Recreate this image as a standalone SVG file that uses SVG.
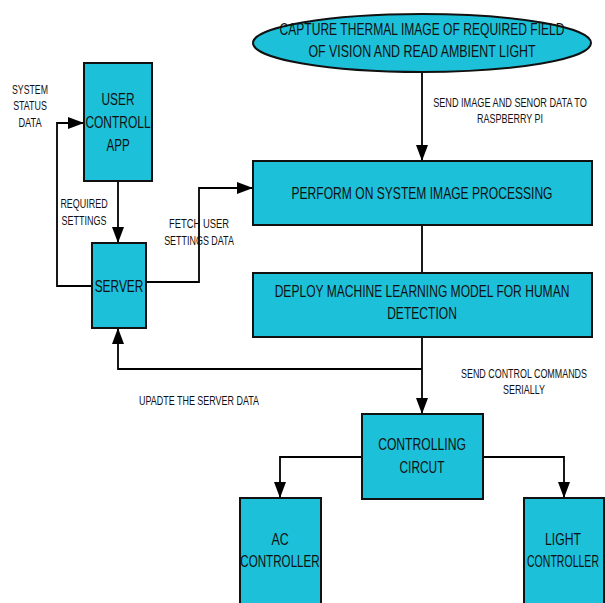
<svg xmlns="http://www.w3.org/2000/svg" width="605" height="603" viewBox="0 0 605 603">
<defs>
<style>
.n{fill:#1CC0D9;stroke:#111;stroke-width:2}
.t{font-family:"Liberation Sans",Arial,sans-serif;font-size:17px;fill:#111;text-anchor:middle}
.l{font-family:"Liberation Sans",Arial,sans-serif;font-size:12px;fill:#111;text-anchor:middle}
.c{fill:none;stroke:#000;stroke-width:1.8}
</style>
<marker id="ah" markerUnits="userSpaceOnUse" markerWidth="16" markerHeight="12" viewBox="0 0 16 12" refX="16" refY="6" orient="auto">
<path d="M0 0 L16 6 L0 12 Z" fill="#000"/>
</marker>
</defs>
<rect width="605" height="603" fill="#fff"/>
<g id="connectors">
<path class="c" d="M422 72 V161" marker-end="url(#ah)"/>
<path class="c" d="M422 225 V273"/>
<path class="c" d="M422 337 V414" marker-end="url(#ah)"/>
<path class="c" d="M422 369 H118 V328" marker-end="url(#ah)"/>
<path class="c" d="M118 181 V243" marker-end="url(#ah)"/>
<path class="c" d="M92 286 H57 V123 H84" marker-end="url(#ah)"/>
<path class="c" d="M146 282 H199 V188 H253" marker-end="url(#ah)"/>
<path class="c" d="M362 457 H280 V498" marker-end="url(#ah)"/>
<path class="c" d="M483 457 H564 V498" marker-end="url(#ah)"/>
</g>
<g id="capture">
<ellipse class="n" cx="422" cy="43" rx="169" ry="29"/>
<text class="t" transform="translate(422 35) scale(.75 1)" textLength="380" lengthAdjust="spacingAndGlyphs">CAPTURE THERMAL IMAGE OF REQUIRED FIELD</text>
<text class="t" transform="translate(422 57) scale(.75 1)" textLength="303" lengthAdjust="spacingAndGlyphs">OF VISION AND  READ AMBIENT LIGHT</text>
</g>
<g id="perform">
<rect class="n" x="253" y="161" width="339" height="64"/>
<text class="t" transform="translate(422 199) scale(.75 1)" textLength="348" lengthAdjust="spacingAndGlyphs">PERFORM ON SYSTEM IMAGE PROCESSING</text>
</g>
<g id="deploy">
<rect class="n" x="253" y="273" width="339" height="64"/>
<text class="t" transform="translate(422 297) scale(.75 1)" textLength="393" lengthAdjust="spacingAndGlyphs">DEPLOY MACHINE LEARNING MODEL FOR HUMAN</text>
<text class="t" transform="translate(422 319) scale(.75 1)" textLength="93" lengthAdjust="spacingAndGlyphs">DETECTION</text>
</g>
<g id="app">
<rect class="n" x="84" y="63" width="68" height="118"/>
<text class="t" transform="translate(118 105) scale(.75 1)" textLength="44" lengthAdjust="spacingAndGlyphs">USER</text>
<text class="t" transform="translate(118 128) scale(.75 1)" textLength="87" lengthAdjust="spacingAndGlyphs">CONTROLL</text>
<text class="t" transform="translate(118 151) scale(.75 1)" textLength="31" lengthAdjust="spacingAndGlyphs">APP</text>
</g>
<g id="server">
<rect class="n" x="92" y="243" width="54" height="85"/>
<text class="t" transform="translate(119 292) scale(.75 1)" textLength="65" lengthAdjust="spacingAndGlyphs">SERVER</text>
</g>
<g id="controlling">
<rect class="n" x="362" y="414" width="121" height="85"/>
<text class="t" transform="translate(422 450) scale(.75 1)" textLength="117" lengthAdjust="spacingAndGlyphs">CONTROLLING</text>
<text class="t" transform="translate(422 473) scale(.75 1)" textLength="60" lengthAdjust="spacingAndGlyphs">CIRCUT</text>
</g>
<g id="ac">
<rect class="n" x="240" y="498" width="81" height="110"/>
<text class="t" transform="translate(280 545) scale(.75 1)" textLength="23" lengthAdjust="spacingAndGlyphs">AC</text>
<text class="t" transform="translate(280 567) scale(.75 1)" textLength="106" lengthAdjust="spacingAndGlyphs">CONTROLLER</text>
</g>
<g id="light">
<rect class="n" x="524" y="498" width="80" height="110"/>
<text class="t" transform="translate(563 545) scale(.75 1)" textLength="48" lengthAdjust="spacingAndGlyphs">LIGHT</text>
<text class="t" transform="translate(563 567) scale(.75 1)" textLength="96" lengthAdjust="spacingAndGlyphs">CONTROLLER</text>
</g>
<g id="labels">
<text class="l" transform="translate(510 107) scale(.75 1)" textLength="205" lengthAdjust="spacingAndGlyphs">SEND IMAGE  AND SENOR DATA TO</text>
<text class="l" transform="translate(510 123) scale(.75 1)" textLength="88" lengthAdjust="spacingAndGlyphs">RASPBERRY PI</text>
<text class="l" transform="translate(30 94) scale(.75 1)" textLength="48" lengthAdjust="spacingAndGlyphs">SYSTEM</text>
<text class="l" transform="translate(30 110) scale(.75 1)" textLength="45" lengthAdjust="spacingAndGlyphs">STATUS</text>
<text class="l" transform="translate(30 127) scale(.75 1)" textLength="31" lengthAdjust="spacingAndGlyphs">DATA</text>
<text class="l" transform="translate(84 208) scale(.75 1)" textLength="63" lengthAdjust="spacingAndGlyphs">REQUIRED</text>
<text class="l" transform="translate(84 225) scale(.75 1)" textLength="60" lengthAdjust="spacingAndGlyphs">SETTINGS</text>
<text class="l" transform="translate(199 228) scale(.75 1)" textLength="80" lengthAdjust="spacingAndGlyphs">FETCH  USER</text>
<text class="l" transform="translate(199 245) scale(.75 1)" textLength="93" lengthAdjust="spacingAndGlyphs">SETTINGS DATA</text>
<text class="l" transform="translate(524 378) scale(.75 1)" textLength="168" lengthAdjust="spacingAndGlyphs">SEND CONTROL COMMANDS</text>
<text class="l" transform="translate(524 394) scale(.75 1)" textLength="56" lengthAdjust="spacingAndGlyphs">SERIALLY</text>
<text class="l" transform="translate(199 405) scale(.75 1)" textLength="160" lengthAdjust="spacingAndGlyphs">UPADTE THE SERVER DATA</text>
</g>
</svg>
